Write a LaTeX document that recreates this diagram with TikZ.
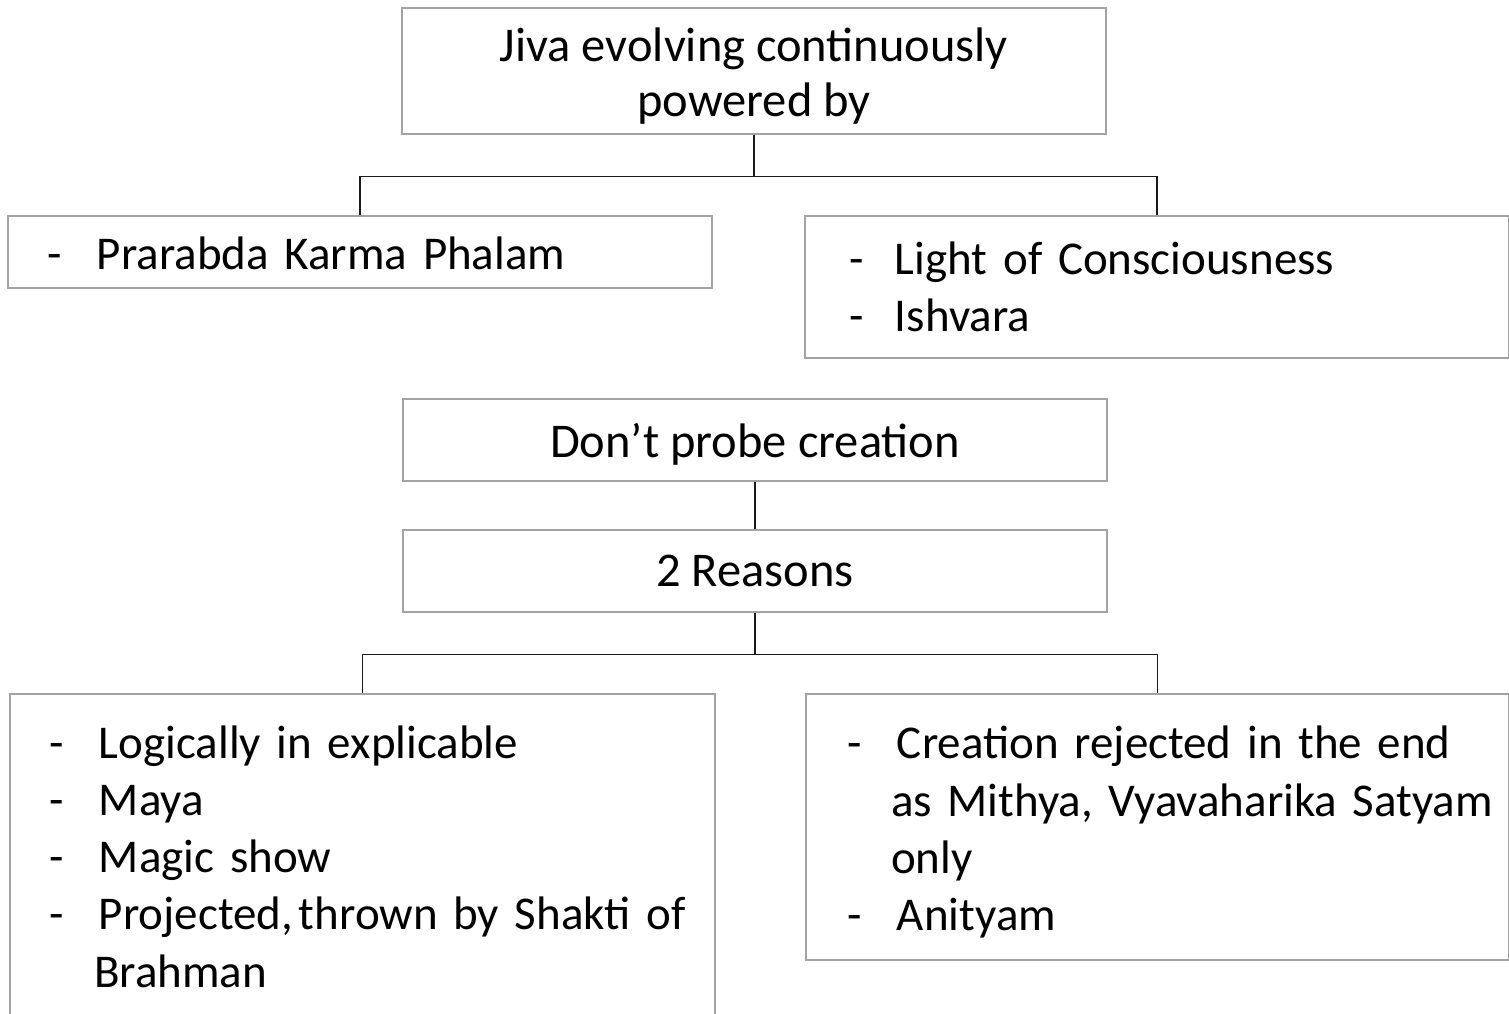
\documentclass[tikz,border=0pt]{standalone}
\usepackage{fontspec}
\setmainfont{Carlito}
\usetikzlibrary{calc}

\definecolor{boxline}{HTML}{A3A3A3}
\definecolor{linkline}{HTML}{1A1A1A}

% a bullet line: left margin, then the dash in a fixed-width slot
\newcommand{\dashline}[2]{\hspace*{#1}\makebox[#2][l]{-}}
% raises the first line so the text block sits lower in its box
\newcommand{\lift}[1]{\rule{0pt}{#1}}

\tikzset{
  box/.style={draw=boxline, line width=1.3pt, inner xsep=0pt, inner ysep=0pt},
  centerbox/.style={box, align=center, font=\fontsize{48.5}{55}\selectfont},
  listbox/.style={box, align=left, font=\fontsize{47}{57.3}\selectfont},
  conn/.style={draw=linkline, line width=1.4pt}
}

\begin{document}
\begin{tikzpicture}[x=1pt, y=-1pt]
  \useasboundingbox (0,0) rectangle (1509,1014);
  \clip (0,0) rectangle (1509,1014);

  % upper tree
  \node[centerbox, minimum width=704pt, minimum height=126pt] (jiva) at (754,71)
    {\lift{43pt}Jiva evolving continuously\\powered by};

  \node[listbox, minimum width=704pt, minimum height=72pt,
        text width=700pt] (karma) at (360,252)
    {\lift{36pt}\dashline{37pt}{50pt}Prarabda Karma Phalam};

  \node[listbox, minimum width=704pt, minimum height=142pt,
        text width=700pt] (light) at (1157,287)
    {\dashline{42pt}{46pt}Light of Consciousness\\
     \dashline{42pt}{46pt}Ishvara};

  \draw[conn] (jiva.south) -- ++(0,42) coordinate (fork1);
  \draw[conn] (karma.north) |- (fork1) -| (light.north);

  % lower tree
  \node[centerbox, minimum width=704pt, minimum height=82pt] (probe) at (755,440)
    {\lift{42pt}Don’t probe creation};

  \node[centerbox, minimum width=704pt, minimum height=82pt] (reasons) at (755,571)
    {2 Reasons};

  \draw[conn] (probe.south) -- (reasons.north);

  \node[listbox, minimum width=705pt, minimum height=325pt,
        text width=701pt] (logic) at (362.5,856.5)
    {\dashline{38pt}{49pt}Logically in explicable\\
     \dashline{38pt}{49pt}Maya\\
     \dashline{38pt}{49pt}Magic show\\
     \dashline{38pt}{49pt}Projected,\hspace{0.12em}thrown by Shakti of\\
     \hspace*{82pt}Brahman};

  \node[listbox, minimum width=703pt, minimum height=266pt,
        text width=699pt] (mithya) at (1157.5,827)
    {\lift{43pt}\dashline{39pt}{50pt}Creation rejected in the end\\
     \hspace*{83pt}as Mithya, Vyavaharika Satyam\\
     \hspace*{83pt}only\\
     \dashline{39pt}{50pt}Anityam};

  \draw[conn] (reasons.south) -- ++(0,42) coordinate (fork2);
  \draw[conn] (logic.north) |- (fork2) -| (mithya.north);
\end{tikzpicture}
\end{document}
